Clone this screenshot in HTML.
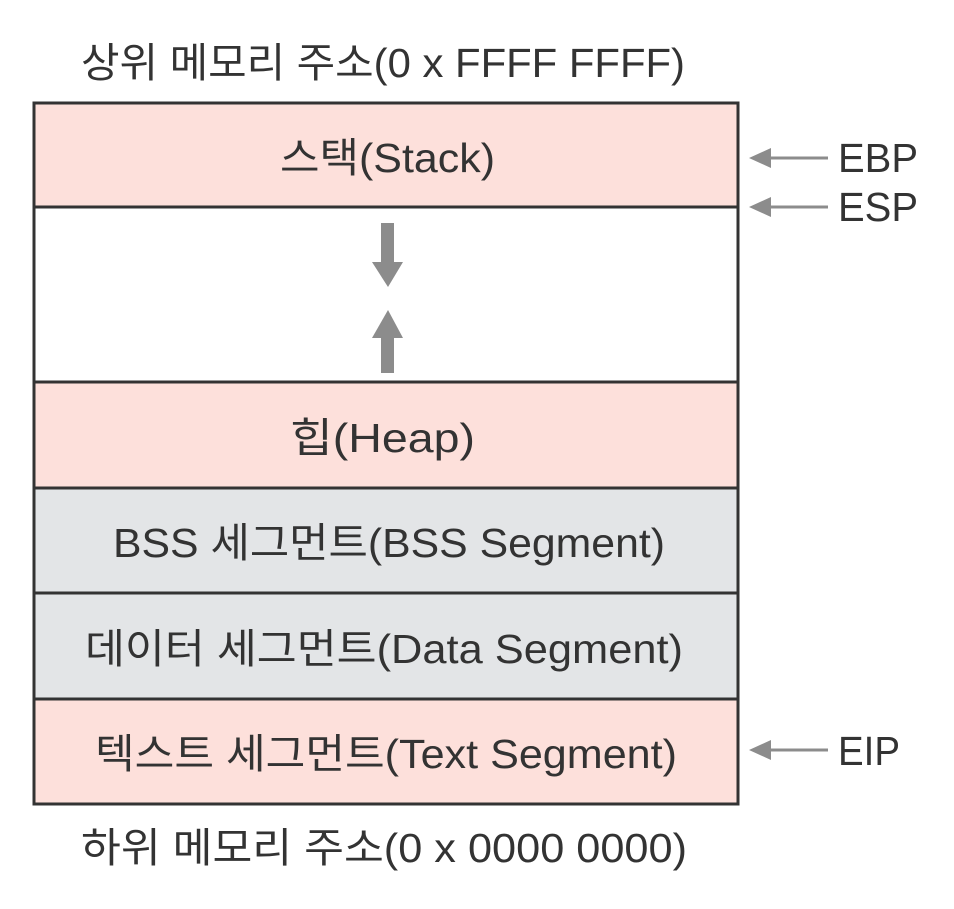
<!DOCTYPE html>
<html><head><meta charset="utf-8"><style>
html,body{margin:0;padding:0;background:#fff;}
svg text{font-family:"Liberation Sans","Noto Sans CJK KR","NanumGothic",sans-serif;fill:#333;font-size:41px;}
</style></head><body>
<svg width="954" height="904" viewBox="0 0 954 904" xmlns="http://www.w3.org/2000/svg">
<rect x="0" y="0" width="954" height="904" fill="#fff"/>
<text x="81" y="77" textLength="604" lengthAdjust="spacingAndGlyphs">상위 메모리 주소(0 x FFFF  FFFF)</text>
<rect x="34" y="103" width="704" height="104" fill="#fde0db"/>
<rect x="34" y="207" width="704" height="175" fill="#fff"/>
<rect x="34" y="382" width="704" height="106" fill="#fde0db"/>
<rect x="34" y="488" width="704" height="211" fill="#e3e5e7"/>
<rect x="34" y="699" width="704" height="105" fill="#fde0db"/>
<g stroke="#333" stroke-width="3" fill="none">
<rect x="34" y="103" width="704" height="701"/>
<line x1="34" y1="207" x2="738" y2="207"/>
<line x1="34" y1="382" x2="738" y2="382"/>
<line x1="34" y1="488" x2="738" y2="488"/>
<line x1="34" y1="593" x2="738" y2="593"/>
<line x1="34" y1="699" x2="738" y2="699"/>
</g>
<g fill="#8c8c8c">
<rect x="381" y="223" width="13" height="42"/>
<polygon points="372,262 403,262 388,287"/>
<rect x="381" y="335" width="13" height="38"/>
<polygon points="372,338 403,338 388,310"/>
</g>
<g stroke="#8c8c8c" stroke-width="3"><line x1="765" y1="158" x2="828" y2="158"/><line x1="765" y1="207" x2="828" y2="207"/><line x1="765" y1="750" x2="828" y2="750"/></g>
<g fill="#8c8c8c"><polygon points="749,158 771,148 771,168"/><polygon points="749,207 771,197 771,217"/><polygon points="749,750 771,740 771,760"/></g>
<text x="280" y="172" textLength="215" lengthAdjust="spacingAndGlyphs">스택(Stack)</text>
<text x="290" y="452" textLength="185" lengthAdjust="spacingAndGlyphs">힙(Heap)</text>
<text x="113" y="557" textLength="552" lengthAdjust="spacingAndGlyphs">BSS 세그먼트(BSS Segment)</text>
<text x="85" y="663" textLength="598" lengthAdjust="spacingAndGlyphs">데이터 세그먼트(Data Segment)</text>
<text x="95" y="768" textLength="582" lengthAdjust="spacingAndGlyphs">텍스트 세그먼트(Text Segment)</text>
<text x="838" y="172" font-size="43" textLength="80" lengthAdjust="spacingAndGlyphs">EBP</text>
<text x="838" y="221" font-size="43" textLength="80" lengthAdjust="spacingAndGlyphs">ESP</text>
<text x="838" y="765" font-size="43" textLength="62" lengthAdjust="spacingAndGlyphs">EIP</text>
<text x="81" y="862" textLength="606" lengthAdjust="spacingAndGlyphs">하위 메모리 주소(0 x 0000 0000)</text>
</svg>
</body></html>
